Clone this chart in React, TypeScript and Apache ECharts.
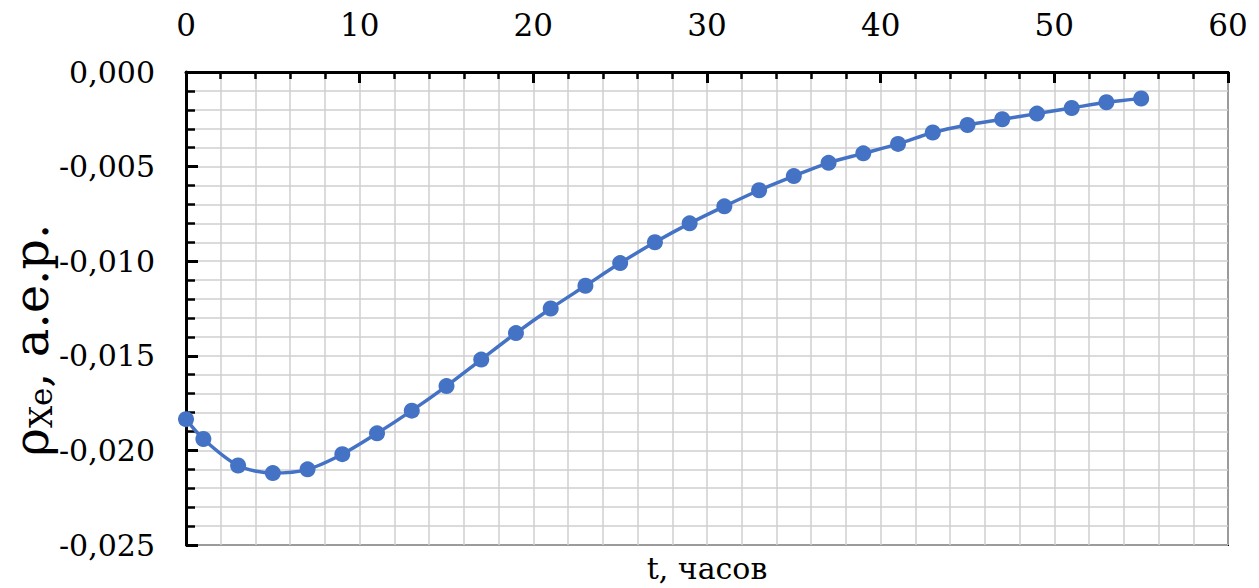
import React, { useEffect, useRef } from "react";
import * as echarts from "echarts";

const tHours = [0, 1, 3, 5, 7, 9, 11, 13, 15, 17, 19, 21, 23, 25, 27, 29, 31, 33, 35, 37, 39, 41, 43, 45, 47, 49, 51, 53, 55];
const rhoXe = [
  -0.01835, -0.0194, -0.0208, -0.0212, -0.0210, -0.0202, -0.0191, -0.0179, -0.0166, -0.0152,
  -0.0138, -0.0125, -0.0113, -0.0101, -0.0090, -0.0080, -0.0071, -0.00625, -0.0055, -0.0048,
  -0.0043, -0.0038, -0.0032, -0.0028, -0.0025, -0.0022, -0.0019, -0.0016, -0.0014,
];

const FONT = "DejaVu Serif";

export default function App() {
  const ref = useRef<HTMLDivElement>(null);
  useEffect(() => {
    if (!ref.current) return;
    const chart = echarts.init(ref.current, null, { renderer: "svg" });
    const gridLine = { color: "#cfcfcf", width: 1.5 };
    chart.setOption({
      animation: false,
      textStyle: { fontFamily: FONT },
      grid: {
        left: 186,
        right: 31,
        top: 72,
        bottom: 43,
        show: true,
        borderColor: "#000",
        borderWidth: 2,
        containLabel: false,
      },
      xAxis: {
        type: "value",
        position: "top",
        min: 0,
        max: 60,
        interval: 10,
        axisLine: { show: true, lineStyle: { color: "#000", width: 3 } },
        axisTick: { show: true, inside: true, length: 11, lineStyle: { color: "#000", width: 3 } },
        minorTick: { show: true, splitNumber: 5, length: 7, lineStyle: { color: "#000", width: 2.5 } },
        splitLine: { show: true, lineStyle: gridLine },
        minorSplitLine: { show: true, lineStyle: gridLine },
        axisLabel: { fontFamily: FONT, fontSize: 31, color: "#000", margin: 32 },
      },
      yAxis: {
        type: "value",
        min: -0.025,
        max: 0,
        interval: 0.005,
        axisLine: { show: true, lineStyle: { color: "#000", width: 3 } },
        axisTick: { show: true, inside: true, length: 12, lineStyle: { color: "#000", width: 3 } },
        minorTick: { show: true, splitNumber: 5, length: 9, lineStyle: { color: "#000", width: 2.5 } },
        splitLine: { show: true, lineStyle: gridLine },
        minorSplitLine: { show: true, lineStyle: gridLine },
        axisLabel: {
          fontFamily: FONT,
          fontSize: 30,
          color: "#000",
          margin: 31,
          formatter: (v: number) => (Math.abs(v) < 1e-12 ? 0 : v).toFixed(3).replace(".", ","),
        },
      },
      graphic: [
        {
          type: "text",
          x: 707,
          y: 568,
          style: {
            text: "t, часов",
            fontFamily: FONT,
            fontSize: 30,
            fill: "#000",
            textAlign: "center",
            textVerticalAlign: "middle",
          },
        },
        {
          type: "text",
          x: 31,
          y: 340,
          rotation: Math.PI / 2,
          style: {
            text: "{a|ρ}{b|Xe}{a|, a.e.p.}",
            textAlign: "center",
            textVerticalAlign: "middle",
            fill: "#000",
            rich: {
              a: { fontFamily: FONT, fontSize: 48, fill: "#000" },
              b: { fontFamily: FONT, fontSize: 31, fill: "#000", padding: [19, 0, 0, 0] },
            },
          },
        },
      ],
      series: [
        {
          type: "line",
          data: tHours.map((t, i) => [t, rhoXe[i]]),
          smooth: 0.3,
          symbol: "circle",
          symbolSize: 16,
          itemStyle: { color: "#4472C4" },
          lineStyle: { color: "#4472C4", width: 3.5 },
          clip: false,
        },
      ],
    });
    return () => chart.dispose();
  }, []);
  return <div ref={ref} style={{ width: 1259, height: 588, position: "absolute", left: 0, top: 0 }} />;
}
